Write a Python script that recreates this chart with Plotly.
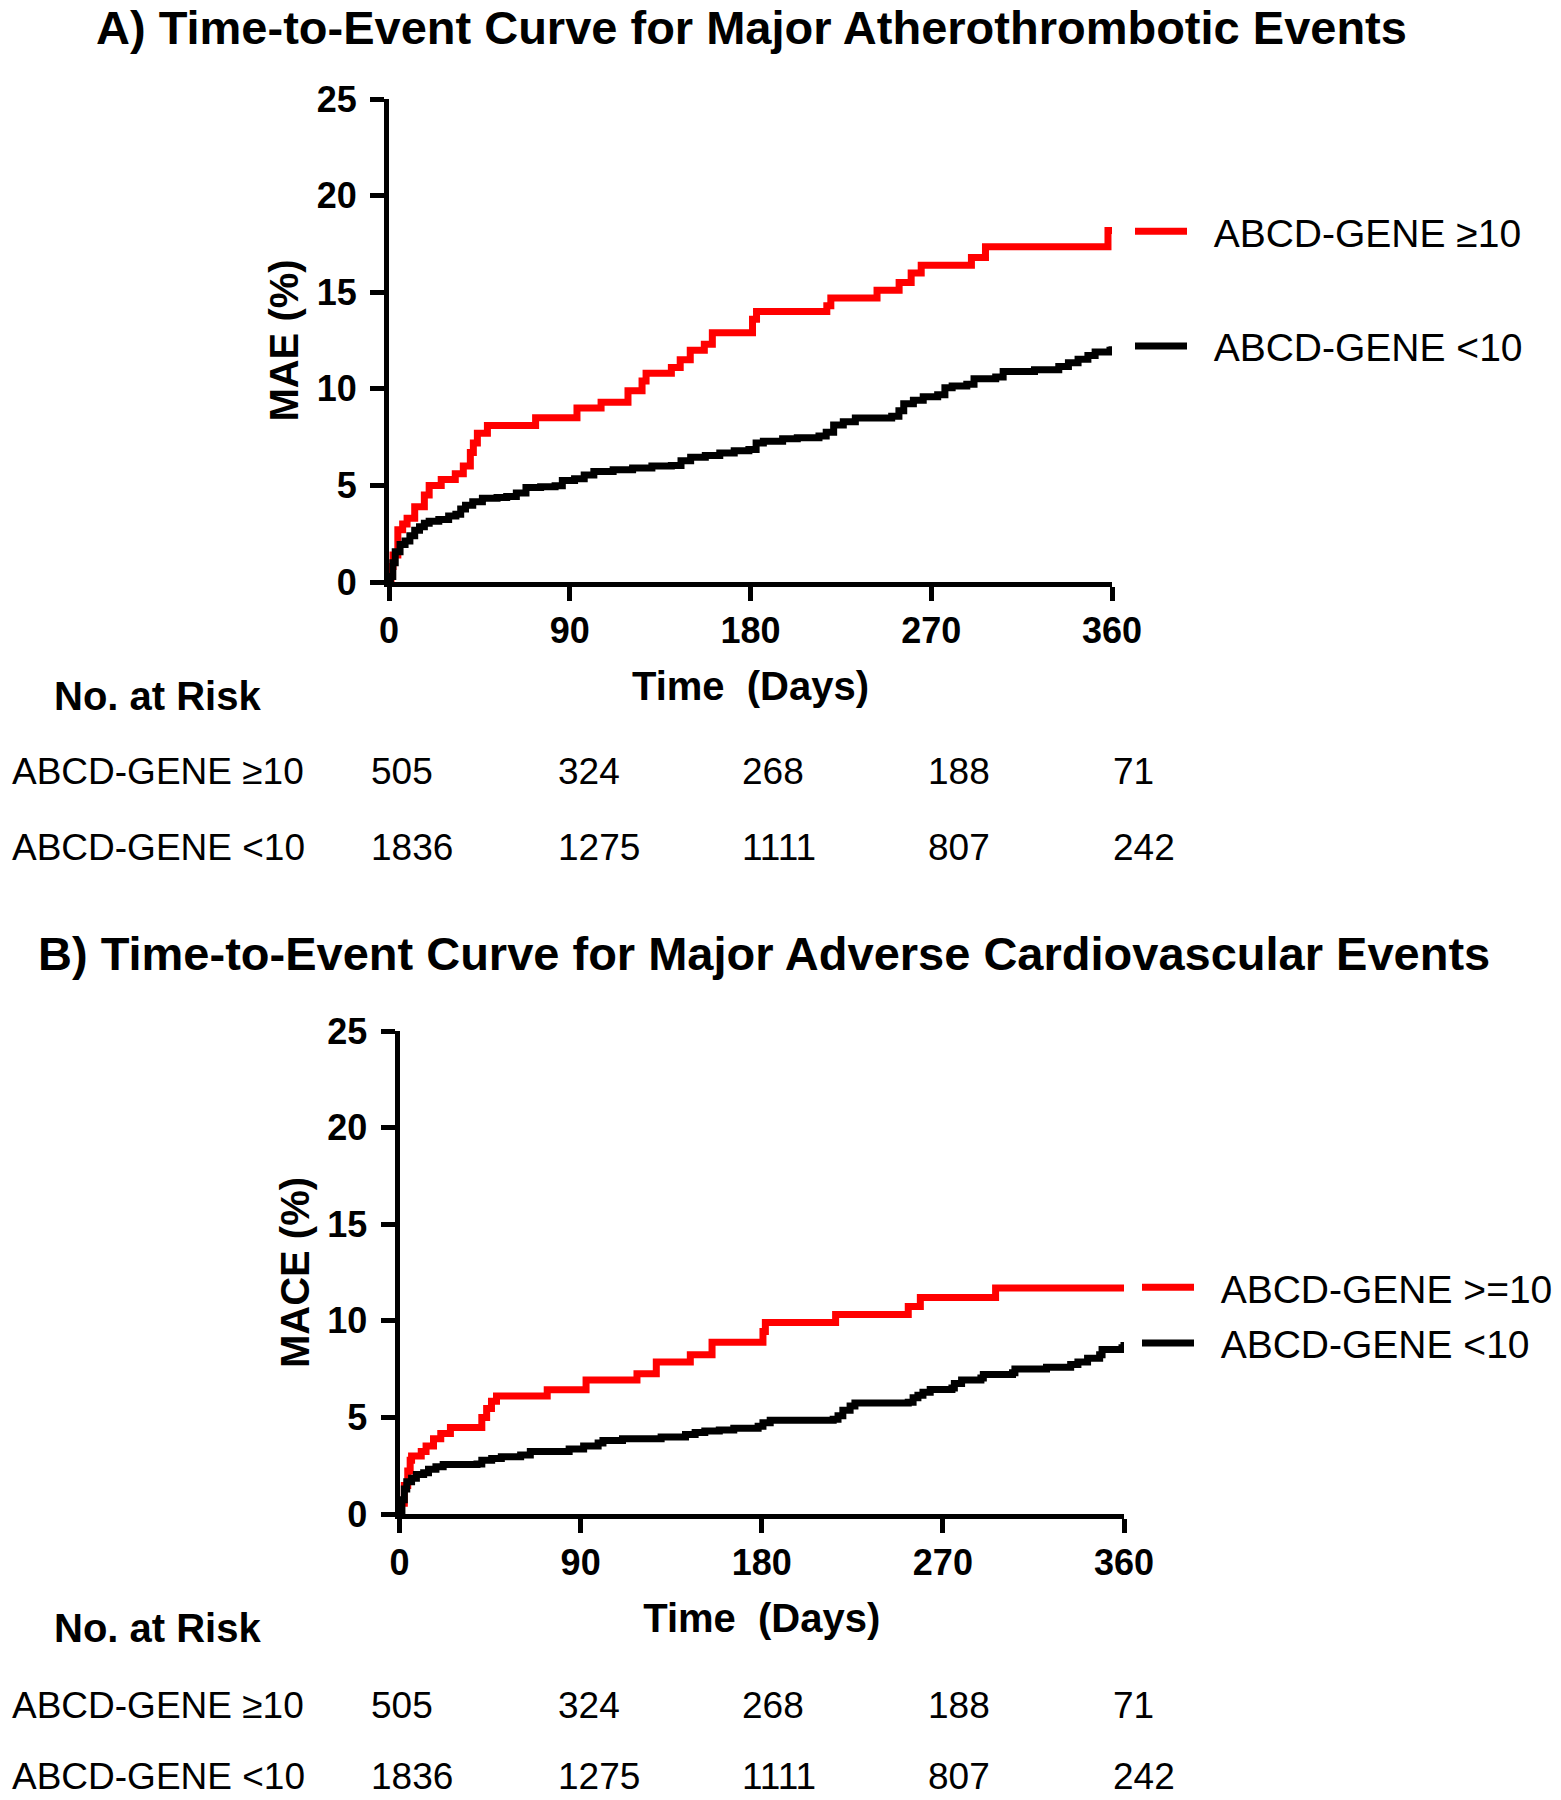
import plotly.graph_objects as go

FONT = "Liberation Sans, Arial, Helvetica, sans-serif"

# ---------------- data ----------------
x_ticks = [0, 90, 180, 270, 360]
y_ticks = [0, 5, 10, 15, 20, 25]

label_hi = "ABCD-GENE ≥10"
label_lo = "ABCD-GENE <10"
label_hi_b = "ABCD-GENE >=10"

# Panel A: Major Atherothrombotic Events (cumulative %)
a_hi_days = [0, 1, 2, 4.4, 6.8, 9, 12.8, 17.6, 20, 26, 33, 37, 40.5, 42, 44, 49,
             73, 93.6, 105.6, 119, 126, 128, 140.6, 145, 150, 157, 161, 181, 183,
             218, 220, 243, 254, 260, 265, 290, 297, 358, 360]
a_hi_pct = [0, 0.8, 1.4, 2.7, 3.0, 3.3, 3.9, 4.5, 5.0, 5.3, 5.6, 6.0, 6.7, 7.2, 7.7, 8.1,
            8.5, 9.0, 9.3, 9.9, 10.4, 10.8, 11.1, 11.5, 12.0, 12.3, 12.9, 13.6, 14.0,
            14.3, 14.7, 15.1, 15.5, 16.0, 16.4, 16.8, 17.35, 18.2, 18.2]

a_lo_days = [0, 0.7, 1.9, 3.1, 5.5, 8.0, 10.4, 12.8, 15.2, 17.6, 20.0, 24.8, 29.7, 33.3,
             35.7, 38.1, 41.7, 46.5, 53.8, 58.6, 63.4, 68.2, 75.5, 82.7, 86.3, 92.4,
             97.2, 102.0, 111.6, 121.3, 130.9, 140.6, 145.4, 150.2, 157.5, 164.7,
             171.9, 179.2, 182.8, 186.4, 196.0, 203.3, 214.1, 217.7, 221.4, 226.2,
             232.2, 250.3, 253.9, 256.3, 261.1, 266.0, 273.2, 276.8, 280.4, 287.7,
             291.3, 302.1, 305.8, 321.4, 333.5, 338.3, 343.1, 348.0, 351.6, 359, 360]
a_lo_pct = [0, 0.28, 1.0, 1.57, 1.94, 2.12, 2.40, 2.68, 2.86, 3.04, 3.14, 3.23, 3.41, 3.51,
            3.78, 3.97, 4.15, 4.34, 4.37, 4.43, 4.61, 4.89, 4.93, 4.98, 5.26, 5.35,
            5.54, 5.72, 5.81, 5.90, 6.00, 6.03, 6.27, 6.46, 6.55, 6.68,
            6.79, 6.86, 7.20, 7.29, 7.42, 7.47, 7.56, 7.75, 8.12, 8.30,
            8.49, 8.58, 8.86, 9.23, 9.41, 9.59, 9.69, 10.06, 10.15, 10.24,
            10.52, 10.61, 10.89, 10.98, 11.16, 11.35, 11.53, 11.72, 11.90, 12.0, 12.2]

# Panel B: Major Adverse Cardiovascular Events (cumulative %)
b_hi_days = [0, 0.5, 2.4, 4.1, 5.3, 6.0, 10.8, 13.2, 16.9, 20.5, 25.3, 40.9, 43.3, 45.7,
             48.2, 73.4, 92.7, 118.0, 127.6, 144.5, 155.3, 180.6, 181.8, 216.7, 252.8,
             258.8, 296.2, 360]
b_hi_pct = [0, 0.56, 1.48, 2.22, 2.78, 3.0, 3.24, 3.52, 3.89, 4.17, 4.48, 5.0, 5.46, 5.83,
            6.11, 6.43, 6.94, 7.26, 7.87, 8.24, 8.89, 9.44, 9.91, 10.33, 10.74,
            11.20, 11.70, 11.70]

b_lo_days = [0, 1.2, 2.4, 3.6, 6.0, 8.4, 12.0, 14.4, 18.1, 21.7, 38.5, 40.9, 45.8, 50.6,
             60.2, 65.0, 84.3, 91.5, 98.7, 101.1, 110.8, 130.0, 142.1, 146.9, 151.7,
             158.9, 166.1, 178.2, 180.6, 184.2, 215.5, 217.9, 220.3, 223.9, 226.3,
             252.8, 255.2, 257.6, 260.1, 263.7, 274.5, 275.7, 279.3, 288.9, 290.1,
             304.6, 305.8, 321.5, 333.5, 337.1, 341.9, 347.9, 349.1, 359, 360]
b_lo_pct = [0, 0.74, 1.30, 1.67, 1.85, 2.04, 2.13, 2.31, 2.44, 2.56, 2.59, 2.78, 2.87, 2.96,
            3.06, 3.24, 3.37, 3.52, 3.67, 3.80, 3.89, 3.98, 4.11, 4.22, 4.30,
            4.35, 4.44, 4.54, 4.72, 4.85, 4.91, 5.09, 5.37, 5.59, 5.74,
            5.78, 6.02, 6.15, 6.30, 6.44, 6.52, 6.76, 6.94, 7.04, 7.22,
            7.31, 7.50, 7.59, 7.74, 7.87, 8.06, 8.24, 8.52, 8.61, 8.9]

# Number at risk
risk_days = [0, 90, 180, 270, 360]
risk_labels = [label_hi, label_lo]
a_risk_hi = [505, 324, 268, 188, 71]
a_risk_lo = [1836, 1275, 1111, 807, 242]
b_risk_hi = [505, 324, 268, 188, 71]
b_risk_lo = [1836, 1275, 1111, 807, 242]

# ---------------- figure ----------------
W, H = 1561, 1800
RED = "#ff0000"
BLACK = "#000000"
PAD = "\u00a0\u00a0"  # spacing between legend key and legend text


def px_x(p):
    return p / W


def px_y(p):
    return 1 - p / H


fig = go.Figure()

curves = [
    (a_hi_days, a_hi_pct, RED, label_hi, "x", "y", "legend", "a1"),
    (a_lo_days, a_lo_pct, BLACK, label_lo, "x", "y", "legend", "a2"),
    (b_hi_days, b_hi_pct, RED, label_hi_b, "x2", "y2", "legend2", "b1"),
    (b_lo_days, b_lo_pct, BLACK, label_lo, "x2", "y2", "legend2", "b2"),
]
for xs, ys, col, name, xa, ya, lg, grp in curves:
    fig.add_trace(go.Scatter(
        x=xs, y=ys, mode="lines", name=PAD + name,
        line=dict(color=col, width=7, shape="hv"),
        xaxis=xa, yaxis=ya, legend=lg, legendgroup=grp,
        hoverinfo="skip",
    ))

axis_common = dict(
    showline=True, linewidth=5, linecolor="black", mirror=False,
    ticks="outside", ticklen=14, tickwidth=5, tickcolor="black",
    showgrid=False, zeroline=False,
    tickfont=dict(family=FONT, size=36, color="black", weight="bold"),
)

xtitle = dict(text="Time\u00a0\u00a0(Days)",
              font=dict(family=FONT, size=40, color="black", weight="bold"),
              standoff=23)

fig.update_layout(
    width=W, height=H,
    margin=dict(l=0, r=0, t=0, b=0, autoexpand=False),
    paper_bgcolor="white", plot_bgcolor="white",
    font=dict(family=FONT, color="black"),
    xaxis=dict(domain=[px_x(389), px_x(1112)], range=[0, 360], tickvals=x_ticks,
               anchor="y", title=xtitle, ticklabelstandoff=-1, **axis_common),
    yaxis=dict(domain=[px_y(582), px_y(99)], range=[0, 25], tickvals=y_ticks,
               anchor="x", ticklabelstandoff=6,
               title=dict(text="MAE (%)", standoff=7,
                          font=dict(family=FONT, size=40, color="black", weight="bold")),
               **axis_common),
    xaxis2=dict(domain=[px_x(399.5), px_x(1124)], range=[0, 360], tickvals=x_ticks,
                anchor="y2", title=xtitle, ticklabelstandoff=-1, **axis_common),
    yaxis2=dict(domain=[px_y(1514), px_y(1031)], range=[0, 25], tickvals=y_ticks,
                anchor="x2", ticklabelstandoff=6,
                title=dict(text="MACE (%)", standoff=7,
                           font=dict(family=FONT, size=40, color="black", weight="bold")),
                **axis_common),
    legend=dict(x=px_x(1130), y=px_y(289), xanchor="left", yanchor="middle",
                font=dict(family=FONT, size=39, color="black"),
                itemwidth=52, tracegroupgap=61, bgcolor="rgba(0,0,0,0)",
                traceorder="grouped"),
    legend2=dict(x=px_x(1137), y=px_y(1315.5), xanchor="left", yanchor="middle",
                 font=dict(family=FONT, size=39, color="black"),
                 itemwidth=52, tracegroupgap=2, bgcolor="rgba(0,0,0,0)",
                 traceorder="grouped"),
    showlegend=True,
)

annotations = []
# Panel titles
annotations.append(dict(text="A) Time-to-Event Curve for Major Atherothrombotic Events",
                        x=px_x(751), y=1, xref="paper", yref="paper",
                        xanchor="center", yanchor="top", showarrow=False, borderpad=0,
                        font=dict(family=FONT, size=47, color="black", weight="bold")))
annotations.append(dict(text="B) Time-to-Event Curve for Major Adverse Cardiovascular Events",
                        x=px_x(764), y=px_y(953), xref="paper", yref="paper",
                        xanchor="center", yanchor="middle", showarrow=False,
                        font=dict(family=FONT, size=47, color="black", weight="bold")))

# Number-at-risk tables
col_x = [369, 555.5, 740, 926, 1111]
for header_y, row_ys, risk_hi, risk_lo in [
    (696, [771, 847], a_risk_hi, a_risk_lo),
    (1628, [1705, 1776], b_risk_hi, b_risk_lo),
]:
    annotations.append(dict(text="No. at Risk", x=px_x(157.5), y=px_y(header_y),
                            xref="paper", yref="paper", xanchor="center", yanchor="middle",
                            showarrow=False,
                            font=dict(family=FONT, size=40, color="black", weight="bold")))
    for ry, lab, vals in zip(row_ys, risk_labels, [risk_hi, risk_lo]):
        annotations.append(dict(text=lab, x=px_x(10), y=px_y(ry), xref="paper", yref="paper",
                                xanchor="left", yanchor="middle", showarrow=False,
                                font=dict(family=FONT, size=37, color="black")))
        for cx, v in zip(col_x, vals):
            annotations.append(dict(text=str(v), x=px_x(cx), y=px_y(ry),
                                    xref="paper", yref="paper", xanchor="left",
                                    yanchor="middle", showarrow=False,
                                    font=dict(family=FONT, size=37, color="black")))

fig.update_layout(annotations=annotations)

fig.write_html(
    "out.html",
    config={"displayModeBar": False},
    post_script="document.body.style.margin='0px';",
)
